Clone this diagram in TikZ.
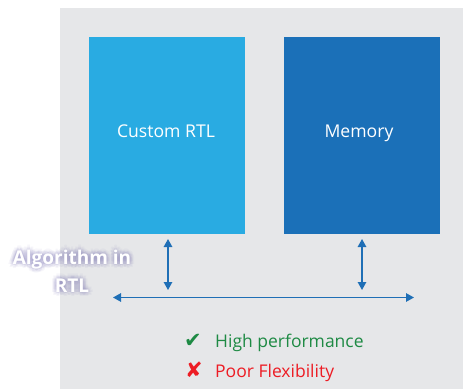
\documentclass[tikz,border=0pt]{standalone}
\usepackage{fontspec}
\setmainfont{Open Sans}
\newfontfamily\symfont{DejaVu Sans}
\usetikzlibrary{arrows.meta,calc}
\definecolor{panelgray}{HTML}{E6E7E9}
\definecolor{lightblue}{HTML}{29ABE2}
\definecolor{darkblue}{HTML}{1B70B8}
\definecolor{arrowblue}{HTML}{1F6FB6}
\definecolor{goodgreen}{HTML}{1E8A44}
\definecolor{badred}{HTML}{ED1C24}
\definecolor{glow}{HTML}{8A84BC}
\tikzset{
  block/.style={minimum width=156pt, minimum height=197pt, inner sep=0pt},
  blocklabel/.style={text=white, font=\fontsize{17.6}{20}\selectfont, inner sep=0pt},
  link/.style={draw=arrowblue, line width=1.3pt,
    {Triangle[length=8pt,width=8.5pt]}-{Triangle[length=8pt,width=8.5pt]}},
  glowtext/.style={text=glow, opacity=0.07, align=center,
    font=\bfseries\fontsize{19}{28}\selectfont},
  mainlabel/.style={text=white, align=center,
    font=\bfseries\fontsize{19}{28}\selectfont},
  note/.style={anchor=base west, font=\fontsize{17.5}{20}\selectfont, inner sep=0pt},
  tick/.style={anchor=base west, font=\symfont\fontsize{21}{24}\selectfont, inner sep=0pt}
}
\begin{document}
\begin{tikzpicture}[x=1pt,y=-1pt]
  \useasboundingbox (0,0) rectangle (463,389);
  % grey panel
  \fill[panelgray] (60,8) rectangle (463,389);
  % the two blocks
  \node[block, fill=lightblue] (rtl) at (167,135.5) {};
  \node[block, fill=darkblue] (mem) at (362,135.5) {};
  \node[blocklabel, anchor=base] (rtllabel) at (166,137) {Custom RTL};
  \node[blocklabel, anchor=base] (memlabel) at (359,137) {Memory};
  % bus
  \coordinate (busL) at (113,297.5);
  \coordinate (busR) at (414,297.5);
  \coordinate (tapA) at (168,290);
  \coordinate (tapB) at (362,290);
  \coordinate (topA) at (168,239);
  \coordinate (topB) at (362,239);
  \draw[link] (busL) -- (busR);
  \draw[link] (topA) -- (tapA);
  \draw[link] (topB) -- (tapB);
  % soft halo behind the side label
  \foreach \r in {1.5,3,4.5}{
    \foreach \a in {0,45,...,315}{
      \node[glowtext] at ($(72,271)+(\a:\r)$) {Algorithm in\\RTL};
    }
  }
  \node[mainlabel] (algo) at (72,271) {Algorithm in\\RTL};
  % pros and cons
  \node[tick, text=goodgreen] (goodmark) at (184,347) {\char"2714};
  \node[note, text=goodgreen] (good) at (215,347) {High performance};
  \node[tick, text=badred] (badmark) at (185,377) {\char"2718};
  \node[note, text=badred] (bad) at (215,377) {Poor Flexibility};
\end{tikzpicture}
\end{document}
